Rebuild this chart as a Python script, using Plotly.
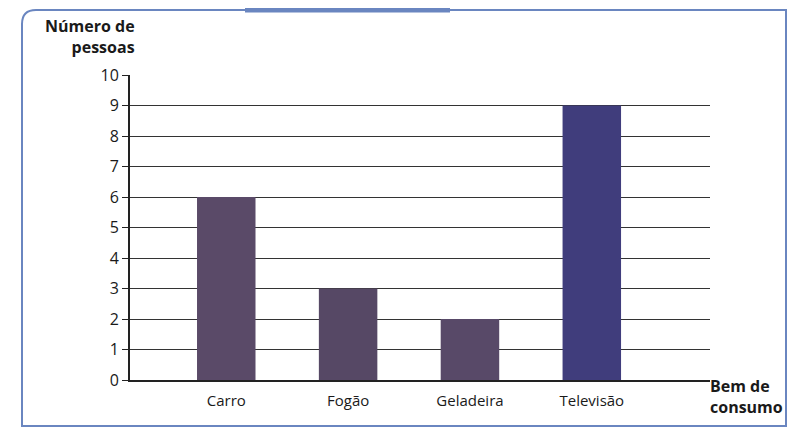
import plotly.graph_objects as go

bens = ["Carro", "Fogão", "Geladeira", "Televisão"]
pessoas = [6, 3, 2, 9]
cores = ["#5a4a68", "#564865", "#584968", "#403d7c"]
y_ticks = list(range(0, 11))

# page body has an 8px margin, so the figure starts at (8, 8)
OFF = 8
W, H = 807 - OFF, 439 - OFF
L, R, T, B = 130 - OFF, 97, 75 - OFF, 59


def px(x, y):
    # screen pixel position -> paper coords
    x, y = x - OFF, y - OFF
    return (x - L) / (W - L - R), 1 - (y - T) / (H - T - B)


fig = go.Figure()
fig.add_trace(go.Bar(
    x=bens,
    y=pessoas,
    marker=dict(color=cores, line=dict(width=0)),
    width=0.48,
))

# rounded frame around the chart
x0, y0 = px(22, 10)
x1, y1 = px(786, 426)
r = 14 / (W - L - R)
ry = 14 / (H - T - B)
path = (f"M {x0 + r},{y0} L {x1},{y0} L {x1},{y1} L {x0},{y1} "
        f"L {x0},{y0 - ry} Q {x0},{y0} {x0 + r},{y0} Z")
fig.add_shape(type="path", path=path, xref="paper", yref="paper",
              line=dict(color="#6a86c0", width=2))
tx0, ty = px(245, 10)
tx1, _ = px(450, 10)
fig.add_shape(type="line", x0=tx0, x1=tx1, y0=ty, y1=ty, xref="paper", yref="paper",
              line=dict(color="#6a86c0", width=5))

ax, ay = px(137, 36)
fig.add_annotation(text="<b>Número de<br>pessoas</b>", x=ax, y=ay, xref="paper", yref="paper",
                   xanchor="right", yanchor="middle", align="right", showarrow=False,
                   font=dict(size=16, color="#1a1a1a"))
bx, by = px(708, 396)
fig.add_annotation(text="<b>Bem de<br>consumo</b>", x=bx, y=by, xref="paper", yref="paper",
                   xanchor="left", yanchor="middle", align="left", showarrow=False,
                   font=dict(size=16, color="#1a1a1a"))

fig.update_layout(
    width=W, height=H,
    margin=dict(l=L, r=R, t=T, b=B),
    paper_bgcolor="white", plot_bgcolor="white",
    font=dict(family="Open Sans", size=14, color="#1a1a1a"),
    showlegend=False,
)
fig.update_xaxes(range=[-0.79, 3.97], showline=True, linecolor="#222", linewidth=2,
                 ticks="", showgrid=False, tickfont=dict(size=15), ticklabelstandoff=6)
fig.update_yaxes(range=[0, 10], tickvals=y_ticks, showline=True, linecolor="#222", linewidth=2,
                 ticks="outside", ticklen=6, tickcolor="#222", showgrid=True,
                 gridcolor="#333", gridwidth=1, zeroline=False, tickfont=dict(size=16))

fig.write_html("out.html")
